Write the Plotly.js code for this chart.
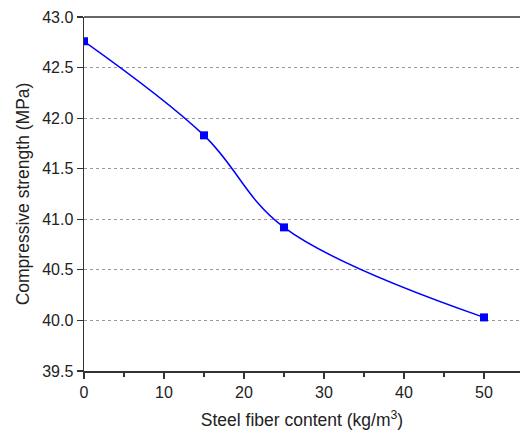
<!DOCTYPE html>
<html>
<head>
<meta charset="utf-8">
<script src="https://cdn.plot.ly/plotly-3.0.1.min.js"></script>
<style>
  html, body { margin: 0; padding: 0; background: #fff; }
  #chart { width: 520px; height: 432px; }
</style>
</head>
<body>
<div id="chart"></div>
<script>
// Steel fiber content (kg/m3) vs compressive strength (MPa)
const fiberContent = [0, 15, 25, 50];
const strength = [42.76, 41.83, 40.92, 40.03];
const xTickValues = [0, 10, 20, 30, 40, 50];
const yTickValues = [39.5, 40.0, 40.5, 41.0, 41.5, 42.0, 42.5, 43.0];
const yTickLabels = ['39.5', '40.0', '40.5', '41.0', '41.5', '42.0', '42.5', '43.0'];

const trace = {
  x: fiberContent,
  y: strength,
  type: 'scatter',
  mode: 'lines+markers',
  line: { color: '#0000ff', width: 1.5, shape: 'spline', smoothing: 1.05 },
  marker: { symbol: 'square', size: 8, color: '#0000ff' },
  hoverinfo: 'x+y'
};

const font = { family: 'Liberation Sans, Arial, sans-serif', color: '#222' };

const layout = {
  width: 520,
  height: 432,
  margin: { l: 84, r: 0, t: 17, b: 61 },
  paper_bgcolor: '#fff',
  plot_bgcolor: '#fff',
  showlegend: false,
  font: font,
  xaxis: {
    range: [0, 54.5],
    tickmode: 'array',
    tickvals: xTickValues,
    ticks: 'outside',
    ticklen: 6,
    tickwidth: 1.2,
    tickcolor: '#333',
    minor: { dtick: 5, tick0: 5, ticks: 'outside', ticklen: 4, tickcolor: '#333', tickwidth: 1.2 },
    showline: true,
    linecolor: '#333',
    linewidth: 1.5,
    showgrid: false,
    zeroline: false,
    tickfont: { size: 16, color: '#222' },
    title: {
      text: 'Steel fiber content (kg/m<sup>3</sup>)',
      font: { size: 17.5, color: '#222' },
      standoff: 14
    }
  },
  yaxis: {
    range: [39.5, 43.0],
    tickmode: 'array',
    tickvals: yTickValues,
    ticktext: yTickLabels,
    ticks: 'outside',
    ticklen: 6,
    tickwidth: 1.2,
    tickcolor: '#333',
    showline: true,
    linecolor: '#333',
    linewidth: 1.5,
    showgrid: true,
    gridcolor: '#999',
    griddash: 'dot',
    gridwidth: 1,
    zeroline: false,
    tickfont: { size: 16, color: '#222' },
    title: {
      text: 'Compressive strength (MPa)',
      font: { size: 17.5, color: '#222' },
      standoff: 8
    }
  },
  shapes: [
    {
      type: 'line', xref: 'paper', yref: 'paper',
      x0: 0, x1: 1, y0: 1, y1: 1,
      line: { color: '#666', width: 2 }
    }
  ]
};

Plotly.newPlot('chart', [trace], layout, { displayModeBar: false, staticPlot: true });
</script>
</body>
</html>
